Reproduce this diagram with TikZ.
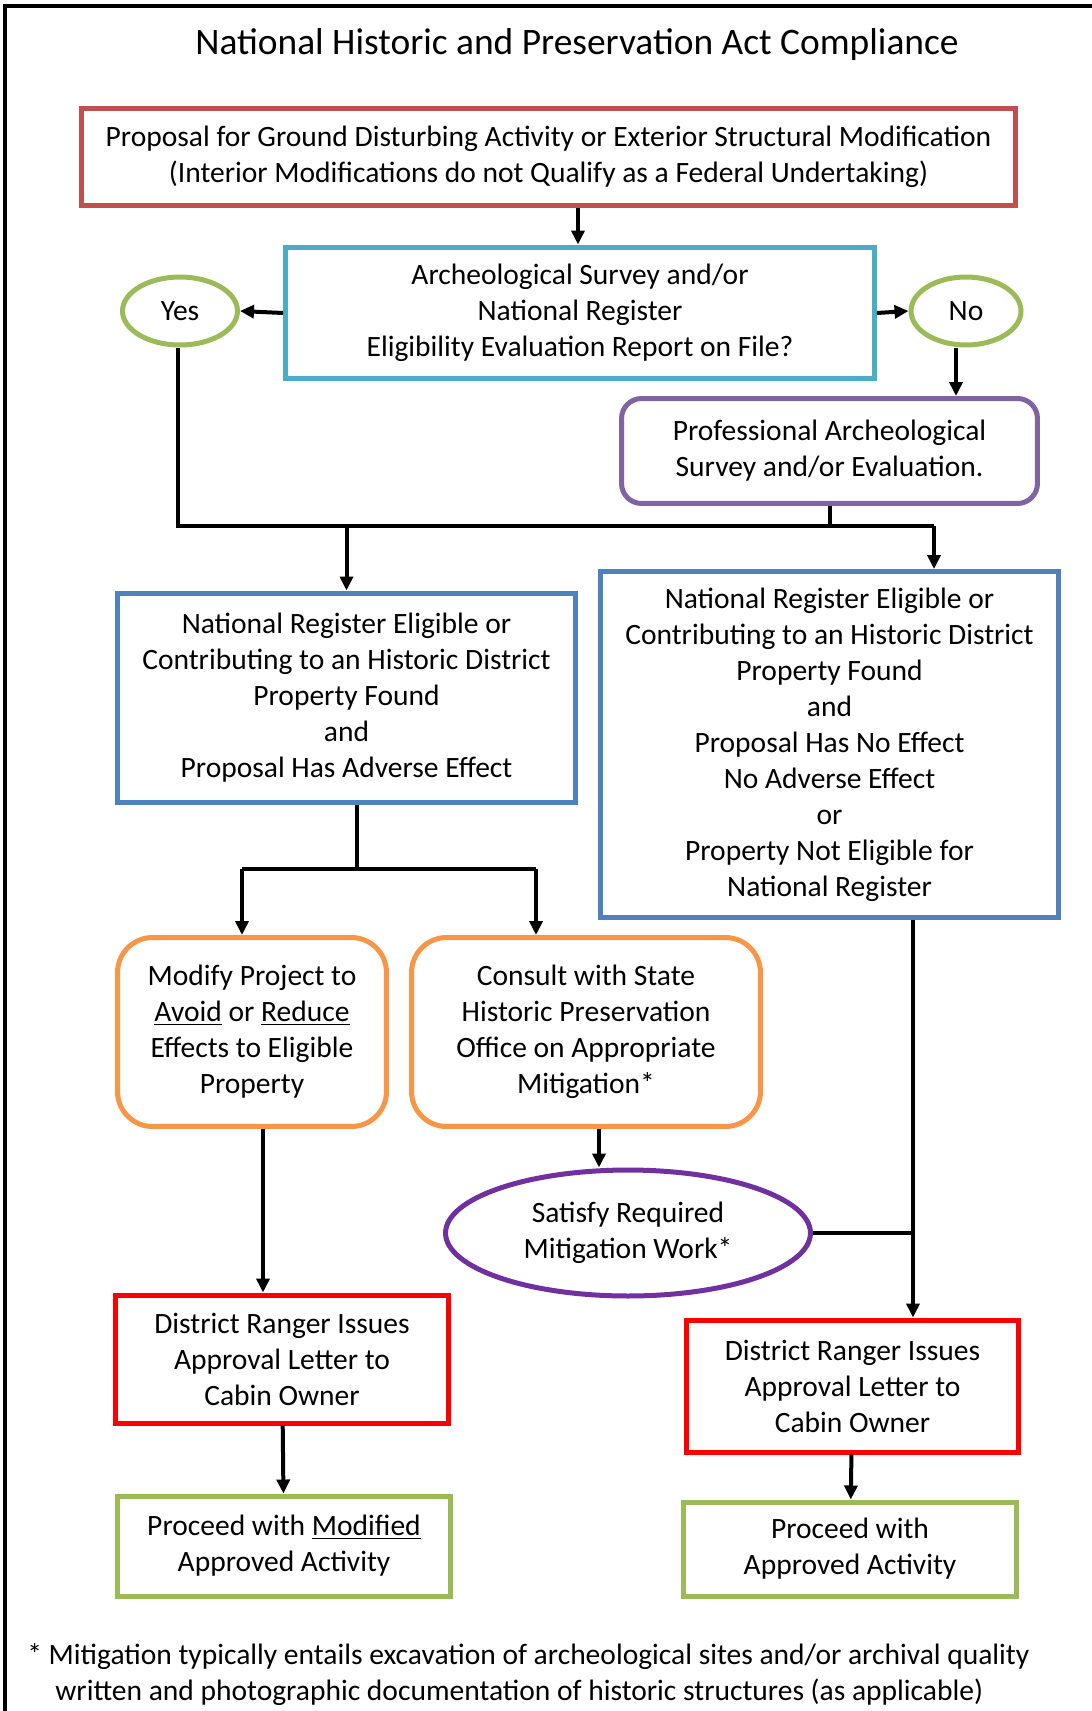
\documentclass[tikz,border=0pt]{standalone}
\usepackage{fontspec}
\setmainfont{Carlito}
\usetikzlibrary{arrows.meta,shapes.geometric}
\definecolor{boxbrown}{HTML}{C0504D}
\definecolor{boxcyan}{HTML}{4BACC6}
\definecolor{boxgreen}{HTML}{9BBB59}
\definecolor{boxpurple}{HTML}{8064A2}
\definecolor{boxblue}{HTML}{4F81BD}
\definecolor{boxorange}{HTML}{F79646}
\definecolor{ovalpurple}{HTML}{7030A0}
\definecolor{boxred}{HTML}{FF0000}
\tikzset{
  txt/.style={font=\fontsize{16.8}{20.5}\selectfont, align=center, inner sep=0pt},
  stepbox/.style={txt, draw=#1, line width=0.1cm, rectangle},
  roundbox/.style={stepbox=#1, rounded corners=0.7cm},
  oval/.style={txt, draw=#1, line width=0.1cm, ellipse},
  arr/.style={-{Triangle[length=0.28cm,width=0.26cm]}, line width=0.08cm},
  line/.style={line width=0.08cm}
}
\begin{document}
\begin{tikzpicture}[x=0.02cm,y=-0.02cm]
  \useasboundingbox (0,0) rectangle (1092,1711);
  \draw[line width=0.09cm] (5,1711) -- (5,6) -- (1092,6);
  \node[txt, font=\fontsize{21.3}{25}\selectfont] (title) at (577,45) {National Historic and Preservation Act Compliance};
  \node[stepbox=boxbrown, minimum width=18.68cm, minimum height=1.94cm] (prop) at (548.5,157) {Proposal for Ground Disturbing Activity or Exterior Structural Modification\\(Interior Modifications do not Qualify as a Federal Undertaking)};
  \node[stepbox=boxcyan, minimum width=11.78cm, minimum height=2.64cm] (survey) at (580,313) {Archeological Survey and/or\\National Register\\Eligibility Evaluation Report on File?};
  \node[oval=boxgreen, minimum width=2.3cm, minimum height=1.36cm] (yes) at (180,311) {Yes};
  \node[oval=boxgreen, minimum width=2.2cm, minimum height=1.36cm] (no) at (966,311) {No};
  \node[stepbox=boxpurple, rounded corners=0.4cm, minimum width=8.32cm, minimum height=2.1cm] (prof) at (829.5,451) {Professional Archeological\\Survey and/or Evaluation.};
  \node[stepbox=boxblue, minimum width=9.16cm, minimum height=4.2cm] (adverse) at (346.5,698) {National Register Eligible or\\Contributing to an Historic District\\Property Found\\and\\Proposal Has Adverse Effect};
  \node[stepbox=boxblue, minimum width=9.16cm, minimum height=6.92cm] (noeff) at (829.5,744.5) {National Register Eligible or\\Contributing to an Historic District\\Property Found\\and\\Proposal Has No Effect\\No Adverse Effect\\or\\Property Not Eligible for\\National Register};
  \node[roundbox=boxorange, minimum width=5.38cm, minimum height=3.78cm] (modify) at (252,1032) {Modify Project to\\\underline{Avoid} or \underline{Reduce}\\Effects to Eligible\\Property};
  \node[roundbox=boxorange, minimum width=6.98cm, minimum height=3.78cm] (consult) at (586,1032) {Consult with State\\Historic Preservation\\Office on Appropriate\\Mitigation*};
  \node[oval=ovalpurple, minimum width=7.3cm, minimum height=2.52cm] (satisfy) at (628,1233) {Satisfy Required\\Mitigation Work*};
  \node[stepbox=boxred, minimum width=6.66cm, minimum height=2.56cm] (rangerl) at (282,1359) {District Ranger Issues\\Approval Letter to\\Cabin Owner};
  \node[stepbox=boxred, minimum width=6.64cm, minimum height=2.64cm] (rangerr) at (852.5,1386) {District Ranger Issues\\Approval Letter to\\Cabin Owner};
  \node[stepbox=boxgreen, minimum width=6.66cm, minimum height=2cm] (procl) at (284,1546) {Proceed with \underline{Modified}\\Approved Activity};
  \node[stepbox=boxgreen, minimum width=6.66cm, minimum height=1.88cm] (procr) at (850,1549) {Proceed with\\Approved Activity};
  \node[txt, align=left, anchor=west] (note) at (27,1675) {* Mitigation typically entails excavation of archeological sites and/or archival quality\\\hspace*{0.95em}written and photographic documentation of historic structures (as applicable)};
  \coordinate (top) at (578,0);
  \coordinate (cn) at (956,0);
  \coordinate (jl) at (178,526);
  \coordinate (jr) at (934,526);
  \coordinate (split) at (357,869);
  \coordinate (s6) at (242,869);
  \coordinate (s7) at (536,869);
  \coordinate (c7) at (599,0);
  \coordinate (c6) at (263,0);
  \coordinate (c5) at (913,0);
  \draw[arr] (prop.south -| top) -- (survey.north -| top);
  \draw[arr] (survey.west) -- (yes.east);
  \draw[arr] (survey.east) -- (no.west);
  \draw[arr] (no.south -| cn) -- (prof.north -| cn);
  \draw[line] (yes.south -| jl) |- (jr);
  \draw[line] (prof.south) -- (prof.south |- jr);
  \draw[arr] (adverse.north |- jl) -- (adverse.north);
  \draw[arr] (jr) -- (jr |- noeff.north);
  \draw[line] (adverse.south -| split) -- (split);
  \draw[line] (s6) -- (s7);
  \draw[arr] (s6) -- (s6 |- modify.north);
  \draw[arr] (s7) -- (s7 |- consult.north);
  \draw[arr] (consult.south -| c7) -- (satisfy.north -| c7);
  \draw[arr] (modify.south -| c6) -- (rangerl.north -| c6);
  \draw[arr] (noeff.south -| c5) -- (rangerr.north -| c5);
  \draw[line] (satisfy.east) -- (satisfy.east -| c5);
  \draw[arr] (rangerl) -- (procl);
  \draw[arr] (rangerr) -- (procr);
\end{tikzpicture}
\end{document}
